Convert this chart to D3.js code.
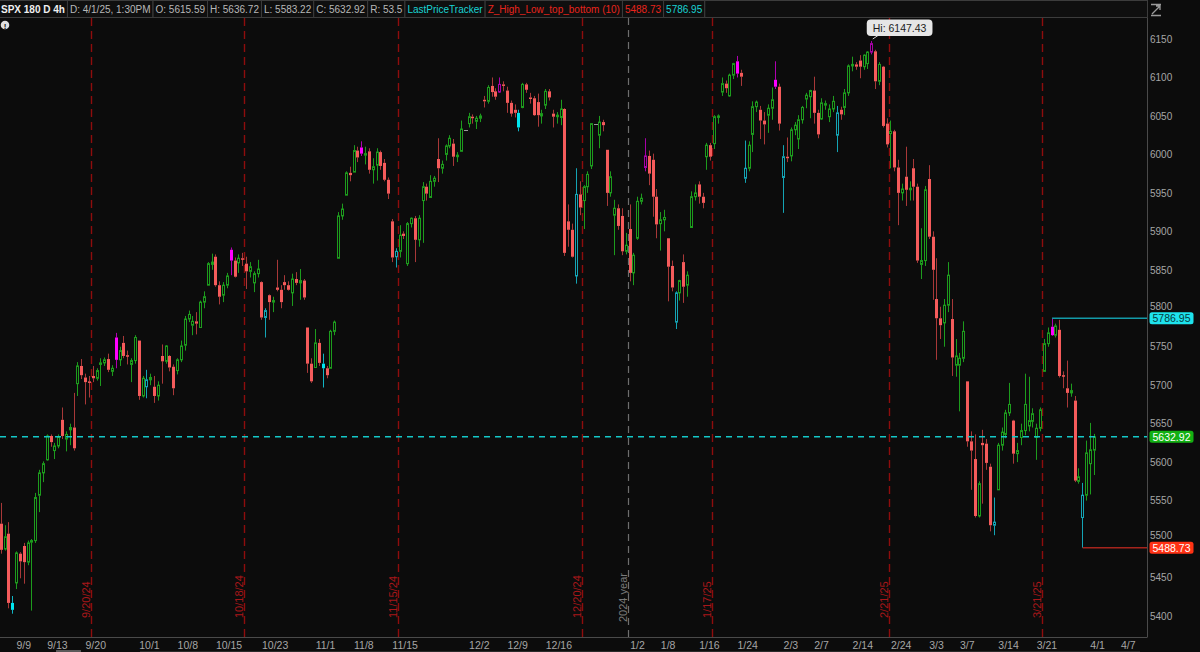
<!DOCTYPE html>
<html><head><meta charset="utf-8">
<script src="https://cdn.jsdelivr.net/npm/d3@7"></script>
<style>
html,body{margin:0;padding:0;background:#0c0c0c;overflow:hidden;}
svg{display:block;font-family:"Liberation Sans",Arial,sans-serif;}
</style></head><body><svg id="c" width="1200" height="652"></svg>
<script>
// ---------------- DATA ----------------
// 4h bars (two per trading day: 9:30 and 1:30PM) as [open, high, low, close]
const sepBars = [
 [5506,5552,5504,5530],[5530,5540,5512,5520], // 9/4
 [5520,5547,5481,5486],[5487,5518,5485,5503], // 9/5
 [5507,5522,5410,5417],[5417,5426,5403,5408], // 9/6
 [5443,5484,5435,5482],[5481,5483,5449,5471], // 9/9
 [5491,5495,5442,5470],[5470,5498,5466,5495], // 9/10
 [5496,5500,5407,5498],[5498,5560,5495,5554], // 9/11
 [5557,5590,5535,5586],[5586,5601,5574,5598], // 9/12
 [5603,5636,5602,5634],[5634,5636,5620,5626], // 9/13
 [5615,5625,5604,5621],[5621,5636,5618,5633], // 9/16
 [5655,5671,5630,5634],[5630,5640,5614,5636], // 9/17
 [5642,5650,5622,5645],[5645,5690,5615,5618], // 9/18
 [5702,5730,5686,5725],[5725,5734,5708,5713], // 9/19
 [5710,5715,5675,5704],[5705,5712,5684,5703], // 9/20
 [5712,5725,5704,5709],[5709,5722,5706,5719], // 9/23
 [5727,5735,5699,5729],[5729,5736,5725,5733], // 9/24
 [5734,5741,5717,5720],[5718,5726,5712,5722], // 9/25
 [5762,5768,5722,5733],[5733,5750,5725,5745], // 9/26
 [5755,5764,5735,5738],[5739,5745,5727,5738], // 9/27
 [5727,5735,5704,5732],[5732,5765,5728,5762]  // 9/30
];
const octBars = [
 [5758,5758,5681,5686],[5686,5712,5684,5709], // 10/1
 [5698,5720,5683,5707],[5707,5715,5700,5710], // 10/2
 [5698,5712,5677,5686],[5686,5705,5680,5700], // 10/3
 [5738,5753,5702,5731],[5731,5752,5728,5751], // 10/4
 [5738,5739,5718,5723],[5724,5727,5687,5696], // 10/7
 [5719,5735,5714,5733],[5733,5758,5730,5751], // 10/8
 [5752,5790,5745,5786],[5786,5797,5782,5792], // 10/9
 [5778,5790,5765,5783],[5783,5795,5766,5780], // 10/10
 [5775,5810,5775,5808],[5808,5822,5800,5815], // 10/11
 [5830,5860,5830,5858],[5857,5871,5850,5860], // 10/14
 [5867,5870,5828,5830],[5830,5835,5805,5815], // 10/15
 [5817,5834,5808,5830],[5830,5846,5826,5842], // 10/16
 [5876,5879,5843,5862],[5862,5866,5840,5841], // 10/17
 [5859,5870,5846,5865],[5865,5872,5855,5864], // 10/18
 [5858,5867,5825,5848],[5848,5860,5840,5854], // 10/21
 [5833,5848,5821,5845],[5845,5863,5840,5851], // 10/22
 [5834,5835,5785,5788],[5788,5800,5762,5797], // 10/23
 [5817,5818,5785,5808],[5808,5815,5795,5810], // 10/24
 [5827,5863,5822,5824],[5824,5830,5800,5808], // 10/25
 [5834,5843,5824,5830],[5830,5835,5823,5824], // 10/28
 [5820,5845,5803,5838],[5838,5847,5830,5833], // 10/29
 [5833,5851,5811,5836],[5836,5838,5811,5814], // 10/30
 [5775,5775,5716,5728],[5728,5735,5703,5705]  // 10/31
];
const novBars = [
 [5723,5773,5723,5755],[5755,5760,5725,5729], // 11/1
 [5728,5741,5697,5722],[5722,5725,5709,5713], // 11/4
 [5722,5772,5722,5770],[5770,5784,5765,5782], // 11/5
 [5865,5925,5865,5920],[5920,5936,5915,5929], // 11/6
 [5947,5978,5947,5976],[5976,5984,5965,5973], // 11/7
 [5977,6012,5977,6005],[6005,6010,5990,5996], // 11/8
 [6009,6017,5998,6001],[5999,6010,5987,6001], // 11/11
 [6004,6008,5975,5980],[5980,5995,5962,5984], // 11/12
 [5986,6008,5966,6003],[6003,6005,5980,5985], // 11/13
 [5989,5994,5965,5967],[5967,5970,5942,5949], // 11/14
 [5913,5916,5860,5866],[5867,5878,5853,5874], // 11/15
 [5874,5908,5866,5895],[5897,5900,5890,5894], // 11/18
 [5858,5912,5855,5910],[5910,5918,5905,5917], // 11/19
 [5917,5920,5860,5889],[5889,5921,5880,5917], // 11/20
 [5940,5964,5885,5958],[5958,5962,5940,5949], // 11/21
 [5944,5973,5944,5965],[5965,5972,5958,5969], // 11/22
 [5994,6021,5964,5982],[5982,5992,5975,5987], // 11/25
 [6000,6013,5992,6011],[6011,6025,6008,6021], // 11/26
 [6014,6020,5985,5997],[5997,6003,5990,5999], // 11/27
 [6004,6044,6004,6033],[6032,6032,6032,6032]  // 11/29 (half day)
];
const decBars = [
 [6040,6054,6035,6049],[6049,6052,6040,6047], // 12/2
 [6043,6050,6033,6047],[6047,6053,6042,6050], // 12/3
 [6071,6076,6061,6069],[6069,6090,6066,6087], // 12/4
 [6089,6100,6075,6081],[6082,6086,6071,6075], // 12/5
 [6081,6100,6080,6091],[6091,6095,6082,6090], // 12/6
 [6083,6088,6054,6067],[6067,6070,6049,6053], // 12/9
 [6058,6065,6048,6054],[6054,6058,6030,6035], // 12/10
 [6061,6093,6060,6091],[6091,6093,6080,6084], // 12/11
 [6074,6080,6066,6073],[6073,6076,6050,6051], // 12/12
 [6068,6079,6036,6051],[6050,6058,6040,6053], // 12/13
 [6064,6085,6059,6082],[6082,6085,6070,6074], // 12/16
 [6053,6058,6035,6049],[6049,6055,6040,6051], // 12/17
 [6048,6071,6038,6059],[6059,6060,5868,5872], // 12/18
 [5913,5935,5880,5902],[5902,5910,5866,5867], // 12/19
 [5842,5982,5832,5948],[5948,5965,5921,5931], // 12/20
 [5940,5960,5903,5958],[5958,5978,5950,5974], // 12/23
 [5985,6040,5981,6040],[6040,6040,6040,6040], // 12/24 (half day)
 [6025,6050,6008,6042],[6042,6045,6030,6038], // 12/26
 [6006,6006,5933,5950],[5950,5978,5945,5971], // 12/27
 [5921,5941,5869,5930],[5930,5935,5902,5907], // 12/30
 [5920,5930,5869,5874],[5874,5898,5870,5882]  // 12/31
];
const janBars = [
 [5903,5935,5835,5846],[5846,5872,5830,5869], // 1/2
 [5891,5945,5889,5939],[5939,5949,5935,5943], // 1/3
 [5983,6021,5978,5998],[5998,6005,5960,5975], // 1/6
 [5993,6001,5919,5945],[5945,5955,5891,5909], // 1/7
 [5910,5925,5875,5915],[5915,5928,5900,5918], // 1/8
 [5891,5891,5809,5854],[5855,5862,5822,5827], // 1/10
 [5782,5822,5773,5820],[5820,5837,5810,5836], // 1/13
 [5860,5870,5807,5828],[5830,5848,5815,5843], // 1/14
 [5905,5952,5905,5945],[5945,5961,5940,5950], // 1/15
 [5961,5965,5936,5945],[5945,5950,5930,5937], // 1/16
 [5997,6015,5980,6012],[6012,6015,5992,5997], // 1/17
 [6014,6051,6007,6049],[6049,6052,6040,6050], // 1/21
 [6081,6100,6076,6092],[6092,6096,6080,6086], // 1/22
 [6076,6105,6075,6103],[6103,6119,6098,6118], // 1/23
 [6121,6128,6100,6105],[6106,6110,6089,6101], // 1/24
 [5969,6018,5963,5982],[5982,6017,5978,6012], // 1/27
 [6026,6069,6003,6062],[6062,6070,6055,6068], // 1/28
 [6058,6063,6020,6044],[6044,6055,6013,6039], // 1/29
 [6051,6065,6028,6060],[6060,6087,6045,6071], // 1/30
 [6097,6121,6085,6088],[6088,6092,6031,6040]  // 1/31
];
const febBars = [
 [5970,6012,5924,5997],[5997,6022,5990,5995], // 2/3
 [5998,6035,5991,6032],[6032,6042,6025,6038], // 2/4
 [6020,6051,6007,6045],[6045,6063,6040,6061], // 2/5
 [6072,6080,6060,6077],[6075,6084,6047,6083], // 2/6
 [6083,6101,6040,6054],[6054,6058,6021,6026], // 2/7
 [6046,6073,6045,6067],[6065,6070,6058,6066], // 2/10
 [6049,6065,6042,6059],[6059,6076,6055,6069], // 2/11
 [6025,6063,6003,6054],[6058,6062,6045,6052], // 2/12
 [6061,6085,6051,6080],[6080,6117,6076,6115], // 2/13
 [6115,6127,6108,6117],[6117,6120,6110,6114], // 2/14
 [6122,6129,6099,6114],[6114,6130,6110,6129], // 2/18
 [6118,6134,6111,6133],[6133,6147.43,6130,6144], // 2/19
 [6134,6136,6085,6095],[6095,6120,6090,6117], // 2/20
 [6114,6115,6035,6037],[6040,6047,6009,6013], // 2/21
 [6027,6044,5982,6030],[6030,6032,5978,5983], // 2/24
 [5983,5993,5908,5950],[5950,5962,5940,5955], // 2/25
 [5971,6010,5933,5954],[5954,5965,5940,5956], // 2/26
 [5982,5994,5940,5958],[5958,5962,5859,5862], // 2/27
 [5857,5904,5838,5862],[5862,5959,5855,5954]  // 2/28
];
const marBars = [
 [5968,5986,5890,5893],[5893,5900,5811,5850], // 3/3
 [5812,5865,5733,5787],[5787,5802,5760,5778], // 3/4
 [5781,5812,5750,5804],[5804,5860,5795,5843], // 3/5
 [5786,5812,5712,5736],[5726,5760,5711,5738], // 3/6
 [5726,5742,5666,5735],[5735,5783,5730,5770], // 3/7
 [5705,5705,5620,5627],[5627,5640,5564,5615], // 3/10
 [5604,5636,5528,5530],[5530,5575,5528,5572], // 3/11
 [5625,5642,5546,5622],[5624,5630,5590,5599], // 3/12
 [5594,5598,5510,5518],[5518,5554,5505,5522], // 3/13
 [5564,5625,5564,5622],[5622,5645,5615,5639], // 3/14
 [5636,5668,5631,5664],[5664,5703,5660,5675], // 3/17
 [5654,5655,5598,5611],[5611,5625,5600,5615], // 3/18
 [5632,5650,5622,5641],[5641,5715,5635,5675], // 3/19
 [5647,5711,5640,5654],[5653,5670,5645,5663], // 3/20
 [5632,5650,5603,5644],[5644,5671,5640,5668], // 3/21
 [5718,5760,5718,5754],[5754,5775,5750,5768], // 3/24
 [5776,5786.95,5764,5765],[5765,5780,5762,5777], // 3/25
 [5772,5785,5710,5712],[5713,5718,5696,5712], // 3/26
 [5696,5732,5671,5690],[5690,5702,5685,5693], // 3/27
 [5680,5686,5574,5576],[5575,5592,5572,5581], // 3/28
 [5528,5573,5488.73,5557],[5557,5628,5550,5612]  // 3/31
];
const aprBars = [
 [5598,5651,5558,5616],[5615.59,5636.72,5583.22,5632.92] // 4/1
];

// Z_High_Low_top_bottom pivots ("date session": a = 9:30 bar, p = 1:30PM bar)
const pivotHighs = ["9/26/24 a","10/17/24 a","11/11/24 a","12/6/24 a","1/6/25 a","1/24/25 a","1/31/25 a","2/19/25 p","3/25/25 a"];
const pivotLows  = ["9/6/24 p","10/2/24 a","10/23/24 p","11/4/24 a","11/15/24 p","12/10/24 p","12/20/24 a","1/13/25 a","1/27/25 a","2/3/25 a","2/12/25 a","3/13/25 p","3/31/25 a"];

const holidays = ["11/28/24","12/25/24","1/1/25","1/9/25","1/20/25","2/17/25"];
const xTickLabels = ["9/9","9/13","9/20","10/1","10/8","10/15","10/23","11/1","11/8","11/15","12/2","12/9","12/16","1/2","1/8","1/16","1/24","2/3","2/7","2/14","2/24","3/3","3/7","3/14","3/21","4/1","4/7"];
const expiryMarkers = ["9/20/24","10/18/24","11/15/24","12/20/24","1/17/25","2/21/25","3/21/25"];
const yearMarker = {date:"12/31/24", label:"2024 year"};
const yTicks = [5400,5450,5500,5550,5600,5650,5700,5750,5800,5850,5900,5950,6000,6050,6100,6150];

const lastPrice = 5632.92, zHigh = 5786.95, zLow = 5488.73, hiValue = 6147.43;
const headerItems = [
 {t:"SPX 180 D 4h", c:"#f0f0f0", b:true},
 {t:"D: 4/1/25, 1:30PM", c:"#b8b8b8"},
 {t:"O: 5615.59", c:"#b8b8b8"},
 {t:"H: 5636.72", c:"#b8b8b8"},
 {t:"L: 5583.22", c:"#b8b8b8"},
 {t:"C: 5632.92", c:"#b8b8b8"},
 {t:"R: 53.5", c:"#b8b8b8"},
 {t:"LastPriceTracker", c:"#19d3d3"},
 {t:"Z_High_Low_top_bottom (10)", c:"#e8241c"},
 {t:"5488.73", c:"#e8241c"},
 {t:"5786.95", c:"#19d3d3"}
];

// ---------------- BUILD ----------------
const bars = [].concat(sepBars, octBars, novBars, decBars, janBars, febBars, marBars, aprBars);
const fmt = d3.timeFormat("%-m/%-d/%y");
const fmtShort = d3.timeFormat("%-m/%-d");
const days = d3.timeDay.range(new Date(2024,8,4), new Date(2025,3,8))
  .filter(d => d.getDay() !== 0 && d.getDay() !== 6 && !holidays.includes(fmt(d)));
const dayKeys = days.map(fmt), dayShort = days.map(fmtShort);
const barKey = i => dayKeys[Math.floor(i/2)] + (i % 2 ? " p" : " a");

const svg = d3.select("#c");
const W = 1200, H = 652;
const plotR = 1147, plotT = 18, plotB = 637;
const x = d3.scaleLinear().domain([0, 287]).range([-6.5, 1094.2]);
const y = d3.scaleLinear().domain([5400, 6150]).range([616, 39]);

svg.append("rect").attr("width", W).attr("height", H).attr("fill", "#0c0c0c");
svg.append("defs").append("clipPath").attr("id","plot")
  .append("rect").attr("x",0).attr("y",plotT).attr("width",plotR).attr("height",plotB-plotT);

const plot = svg.append("g").attr("clip-path","url(#plot)");

// expiry markers
const dayIdx = k => dayKeys.indexOf(k);
expiryMarkers.forEach(k => {
  const px = Math.round(x(dayIdx(k)*2+1) + 1.5) + 0.5;
  plot.append("line").attr("x1",px).attr("x2",px).attr("y1",plotT).attr("y2",plotB)
    .attr("stroke","#8e0d0d").attr("stroke-width",1.4).attr("stroke-dasharray","8,5");
  svg.append("text").attr("transform",`translate(${px-1.5},618) rotate(-90)`)
    .attr("fill","#a8171a").attr("font-size",11).text(k);
});
{
  const px = Math.round(x(dayIdx(yearMarker.date)*2+1) + 1.5) + 0.5;
  plot.append("line").attr("x1",px).attr("x2",px).attr("y1",plotT).attr("y2",plotB)
    .attr("stroke","#6e6e6e").attr("stroke-width",1.2).attr("stroke-dasharray","7,5");
  svg.append("text").attr("transform",`translate(${px-1.5},622) rotate(-90)`)
    .attr("fill","#7a7a7a").attr("font-size",11).text(yearMarker.label);
}

// candles
const colors = {
  upN:{s:"#1d9c1d", w:"#1d9c1d"}, dnN:{f:"#f55b5b", w:"#a83838"},
  upH:{s:"#a800a8", w:"#a800a8"}, dnH:{f:"#ff00ff", w:"#b000b0"},
  upL:{s:"#14a4b4", w:"#14a4b4"}, dnL:{f:"#00e6ef", w:"#10b4c4"}
};
const cg = plot.append("g");
bars.forEach((b, i) => {
  const [o, h, l, c] = b;
  const fx = Math.floor(x(i));
  const k = barKey(i);
  if (h === l) { // half-day empty bar
    const yy = Math.round(y(c)) + 0.5;
    cg.append("line").attr("x1",fx-1).attr("x2",fx+3).attr("y1",yy).attr("y2",yy)
      .attr("stroke","#9a9a9a").attr("stroke-width",1);
    return;
  }
  const up = c >= o;
  const kind = pivotHighs.includes(k) ? "H" : pivotLows.includes(k) ? "L" : "N";
  const col = colors[(up ? "up" : "dn") + kind];
  const yTop = y(Math.max(o,c)), yBot = y(Math.min(o,c));
  const wx = fx + 0.5;
  cg.append("line").attr("x1",wx).attr("x2",wx).attr("y1",y(h)).attr("y2",yTop)
    .attr("stroke",col.w).attr("stroke-width",1);
  cg.append("line").attr("x1",wx).attr("x2",wx).attr("y1",yBot).attr("y2",y(l))
    .attr("stroke",col.w).attr("stroke-width",1);
  const bh = Math.max(1.5, yBot - yTop);
  if (up) {
    cg.append("rect").attr("x",fx-0.5).attr("y",yTop).attr("width",2).attr("height",Math.max(1,bh))
      .attr("fill","#0c0c0c").attr("stroke",col.s).attr("stroke-width",1);
  } else {
    cg.append("rect").attr("x",fx-1).attr("y",yTop).attr("width",3).attr("height",bh)
      .attr("fill",col.f);
  }
});

// last price tracker dashed line
plot.append("line").attr("x1",0).attr("x2",plotR).attr("y1",y(lastPrice)).attr("y2",y(lastPrice))
  .attr("stroke","#14c8c8").attr("stroke-width",1.5).attr("stroke-dasharray","6,5");
// Z high / low extension lines
const iH = bars.findIndex(b=>b[1]===zHigh), iL = bars.findIndex(b=>b[2]===zLow);
plot.append("line").attr("x1",x(iH)).attr("x2",plotR).attr("y1",y(zHigh)).attr("y2",y(zHigh))
  .attr("stroke","#139aa8").attr("stroke-width",1.5);
plot.append("line").attr("x1",x(iL)).attr("x2",plotR).attr("y1",y(zLow)).attr("y2",y(zLow))
  .attr("stroke","#a5241c").attr("stroke-width",1.5);

// Hi callout
{
  const iHi = bars.findIndex(b=>b[1]===hiValue);
  const hx = x(iHi);
  const g = svg.append("g");
  g.append("line").attr("x1",hx+1).attr("y1",y(hiValue)-2).attr("x2",hx+7).attr("y2",35)
    .attr("stroke","#cfcfcf").attr("stroke-width",1);
  const t = g.append("text").attr("x",hx+1).attr("y",31.5).attr("font-size",10.5).attr("fill","#1a1a1a")
    .text("Hi: " + hiValue.toFixed(2));
  const tw = t.node().getComputedTextLength();
  g.insert("rect","text").attr("x",hx-5).attr("y",19.5).attr("width",tw+12).attr("height",16.5).attr("rx",4)
    .attr("fill","#e6e6e6");
}

// axes frame
svg.append("line").attr("x1",plotR+0.5).attr("x2",plotR+0.5).attr("y1",0).attr("y2",plotB)
  .attr("stroke","#4a4a4a");
svg.append("line").attr("x1",0).attr("x2",plotR+0.5).attr("y1",plotB+0.5).attr("y2",plotB+0.5)
  .attr("stroke","#4a4a4a");

// y axis labels (nudged clear of the price bubbles)
const bubbles = [[zHigh,"#1ee3ec","#063a3c"],[lastPrice,"#13b013","#ffffff"],[zLow,"#ff3214","#ffffff"]];
const yAxis = d3.axisRight(y).tickValues(yTicks).tickSize(0).tickPadding(0).tickFormat(d3.format("d"));
const ya = svg.append("g").attr("transform",`translate(${plotR+3},0)`).call(yAxis);
ya.select(".domain").remove();
ya.selectAll("text").attr("fill","#a6a6a6").attr("font-size",10)
  .attr("font-family","'Liberation Sans',Arial,sans-serif")
  .attr("dy", function(d){
    let shift = 0;
    bubbles.forEach(([v])=>{
      const diff = y(v) - y(d);
      if (diff > 0 && diff < 12) shift = Math.min(shift, diff - 12);
      if (diff <= 0 && diff > -12) shift = Math.max(shift, diff + 12);
    });
    return (0.32 + shift/10) + "em";
  });

// price bubbles
bubbles.forEach(([v,bg,fg])=>{
  const yy = y(v);
  svg.append("rect").attr("x",plotR+2.5).attr("y",yy-6).attr("width",44).attr("height",12).attr("rx",2.5)
    .attr("fill",bg);
  svg.append("text").attr("x",plotR+24.5).attr("y",yy+3.8).attr("text-anchor","middle")
    .attr("font-size",10.5).attr("fill",fg).text(v.toFixed(2));
});

// x axis labels
xTickLabels.forEach(lbl => {
  const di = dayShort.indexOf(lbl);
  svg.append("text").attr("x", x(di*2)).attr("y", 649).attr("font-size",10.5)
    .attr("fill","#a6a6a6").text(lbl);
});
// bottom scroll strip
svg.append("line").attr("x1",140).attr("x2",1140).attr("y1",651.5).attr("y2",651.5).attr("stroke","#2a2a2a");
svg.append("rect").attr("x",56).attr("y",650).attr("width",25).attr("height",3).attr("fill","#5a5a5a");

// header
const hg = svg.append("g");
let hx0 = -2;
headerItems.forEach(it => {
  const t = hg.append("text").attr("x",hx0+3).attr("y",13).attr("font-size",it.b?10:10)
    .attr("font-weight",it.b?"bold":"normal").attr("fill",it.c).text(it.t);
  const w = t.node().getComputedTextLength();
  hg.insert("rect","text").attr("x",hx0+0.5).attr("y",0.5).attr("width",w+5).attr("height",17)
    .attr("fill","#0f0f0f").attr("stroke","#3c3c3c");
  hx0 += w + 5;
});
hg.insert("rect","text").attr("x",hx0+0.5).attr("y",0.5).attr("width",plotR-hx0).attr("height",17)
  .attr("fill","#0f0f0f").attr("stroke","#3c3c3c");

// alert icon
svg.append("circle").attr("cx",5).attr("cy",25).attr("r",4.3).attr("fill","#e0e0e0");
svg.append("text").attr("x",5).attr("y",28.5).attr("text-anchor","middle").attr("font-size",8)
  .attr("font-weight","bold").attr("fill","#111").text("!");
// expand icon
const ic = svg.append("g").attr("stroke","#9a9a9a").attr("stroke-width",1.3).attr("fill","none");
ic.append("path").attr("d","M1151,4.5 H1161 M1151,15.5 H1161 M1152,14 L1160,6 M1156,6 H1160 V10");
</script></body></html>
